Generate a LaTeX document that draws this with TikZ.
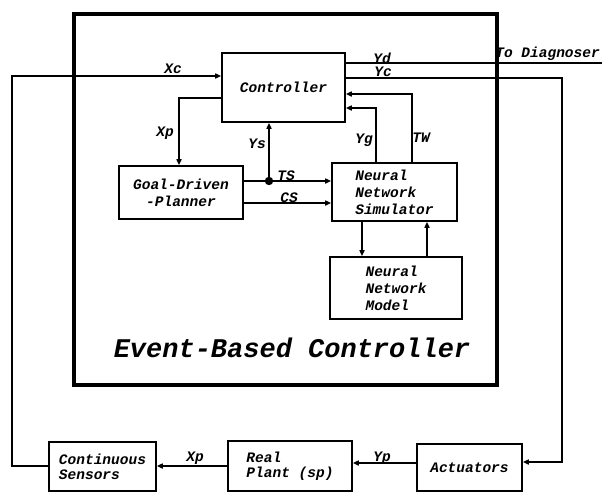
\documentclass[tikz,border=0pt]{standalone}
\usepackage{fontspec}
\setmonofont{Liberation Mono}
\usetikzlibrary{arrows.meta}
\newcommand{\lblfont}{\fontsize{14.5}{17}\selectfont\ttfamily\bfseries\itshape}
\newcommand{\botfont}{\fontsize{14.5}{15}\selectfont\ttfamily\bfseries\itshape}
\begin{document}
\begin{tikzpicture}[x=1pt,y=-1pt,
  box/.style={draw, line width=1.6pt, inner sep=0pt, font=\lblfont, align=left},
  bbox/.style={draw, line width=1.6pt, inner sep=0pt, font=\botfont, align=left},
  wire/.style={line width=1.6pt},
  arr/.style={line width=1.6pt, -{Triangle[length=6pt,width=5pt]}},
  lbl/.style={font=\lblfont, inner sep=0pt}]
\useasboundingbox (0,0) rectangle (602,493);
% event-based controller frame
\draw[line width=3.5pt] (74,14) rectangle (497,385);
\node[font=\fontsize{27}{30}\selectfont\ttfamily\bfseries\itshape, inner sep=0pt] (ebc) at (292,348) {Event-Based Controller};
% boxes
\node[box, minimum width=123pt, minimum height=69pt, align=center] (ctrl) at (283.5,87.5) {Controller};
\node[box, minimum width=124pt, minimum height=53pt, align=center] (plan) at (181,192.5) {Goal-Driven\\-Planner};
\node[box, minimum width=125pt, minimum height=58pt] (nns) at (394.5,192) {Neural\\Network\\Simulator};
\node[box, minimum width=132pt, minimum height=62pt] (nnm) at (396,288) {Neural\\Network\\Model};
\node[bbox, minimum width=107pt, minimum height=49pt] (cs) at (102.5,466.5) {Continuous\\Sensors};
\node[bbox, minimum width=124pt, minimum height=50pt] (rp) at (290,466) {Real\\Plant (sp)};
\node[bbox, minimum width=105pt, minimum height=47pt, align=center] (act) at (469.5,467.5) {Actuators};
% helper coordinates
\coordinate (xL) at (12,0);
\coordinate (xR) at (562,0);
\coordinate (xys) at (269,0);
\coordinate (xxp) at (179,0);
\coordinate (xyg) at (376,0);
\coordinate (xtw) at (412,0);
\coordinate (xdn) at (362,0);
\coordinate (xup) at (427,0);
\coordinate (yYd) at (0,63);
\coordinate (yXc) at (0,76);
\coordinate (yYc) at (0,78);
\coordinate (yTW) at (0,94);
\coordinate (yXp) at (0,98);
\coordinate (yYg) at (0,108);
\coordinate (yTS) at (0,181);
\coordinate (yCS) at (0,203);
\coordinate (yAct) at (0,462);
\coordinate (yYp) at (0,463);
\coordinate (yXpb) at (0,466);
\coordinate (diag) at (602,63);
\coordinate (dot) at (269,181);
% connectors
\draw[arr] (cs.west |- yXpb) -- (xL |- yXpb) -- (xL |- yXc) -- (ctrl.west |- yXc);
\draw[wire] (ctrl.east |- yYd) -- (diag);
\draw[arr] (ctrl.east |- yYc) -- (xR |- yYc) -- (xR |- yAct) -- (act.east |- yAct);
\draw[arr] (act.west |- yYp) -- (rp.east |- yYp);
\draw[arr] (rp.west |- yXpb) -- (cs.east |- yXpb);
\draw[arr] (ctrl.west |- yXp) -- (xxp |- yXp) -- (xxp |- plan.north);
\draw[arr] (dot) -- (xys |- ctrl.south);
\draw[arr] (plan.east |- yTS) -- (nns.west |- yTS);
\draw[arr] (plan.east |- yCS) -- (nns.west |- yCS);
\fill (dot) circle (4.2pt);
\draw[arr] (xyg |- nns.north) -- (xyg |- yYg) -- (ctrl.east |- yYg);
\draw[arr] (xtw |- nns.north) -- (xtw |- yTW) -- (ctrl.east |- yTW);
\draw[arr] (xdn |- nns.south) -- (xdn |- nnm.north);
\draw[arr] (xup |- nnm.north) -- (xup |- nns.south);
% labels
\node[lbl] (lXc) at (173,69) {Xc};
\node[lbl] (lYd) at (382,58) {Yd};
\node[lbl] (lYc) at (383,72) {Yc};
\node[lbl, anchor=south east] (lTD) at (600,61) {To Diagnoser};
\node[lbl] (lXp) at (165,133) {Xp};
\node[lbl] (lYs) at (257,144) {Ys};
\node[lbl] (lTS) at (286,176) {TS};
\node[lbl] (lCS) at (289,198) {CS};
\node[lbl] (lYg) at (364,140) {Yg};
\node[lbl] (lTW) at (421,138) {TW};
\node[lbl] (lXpb) at (195,458) {Xp};
\node[lbl] (lYp) at (382,458) {Yp};
\end{tikzpicture}
\end{document}
